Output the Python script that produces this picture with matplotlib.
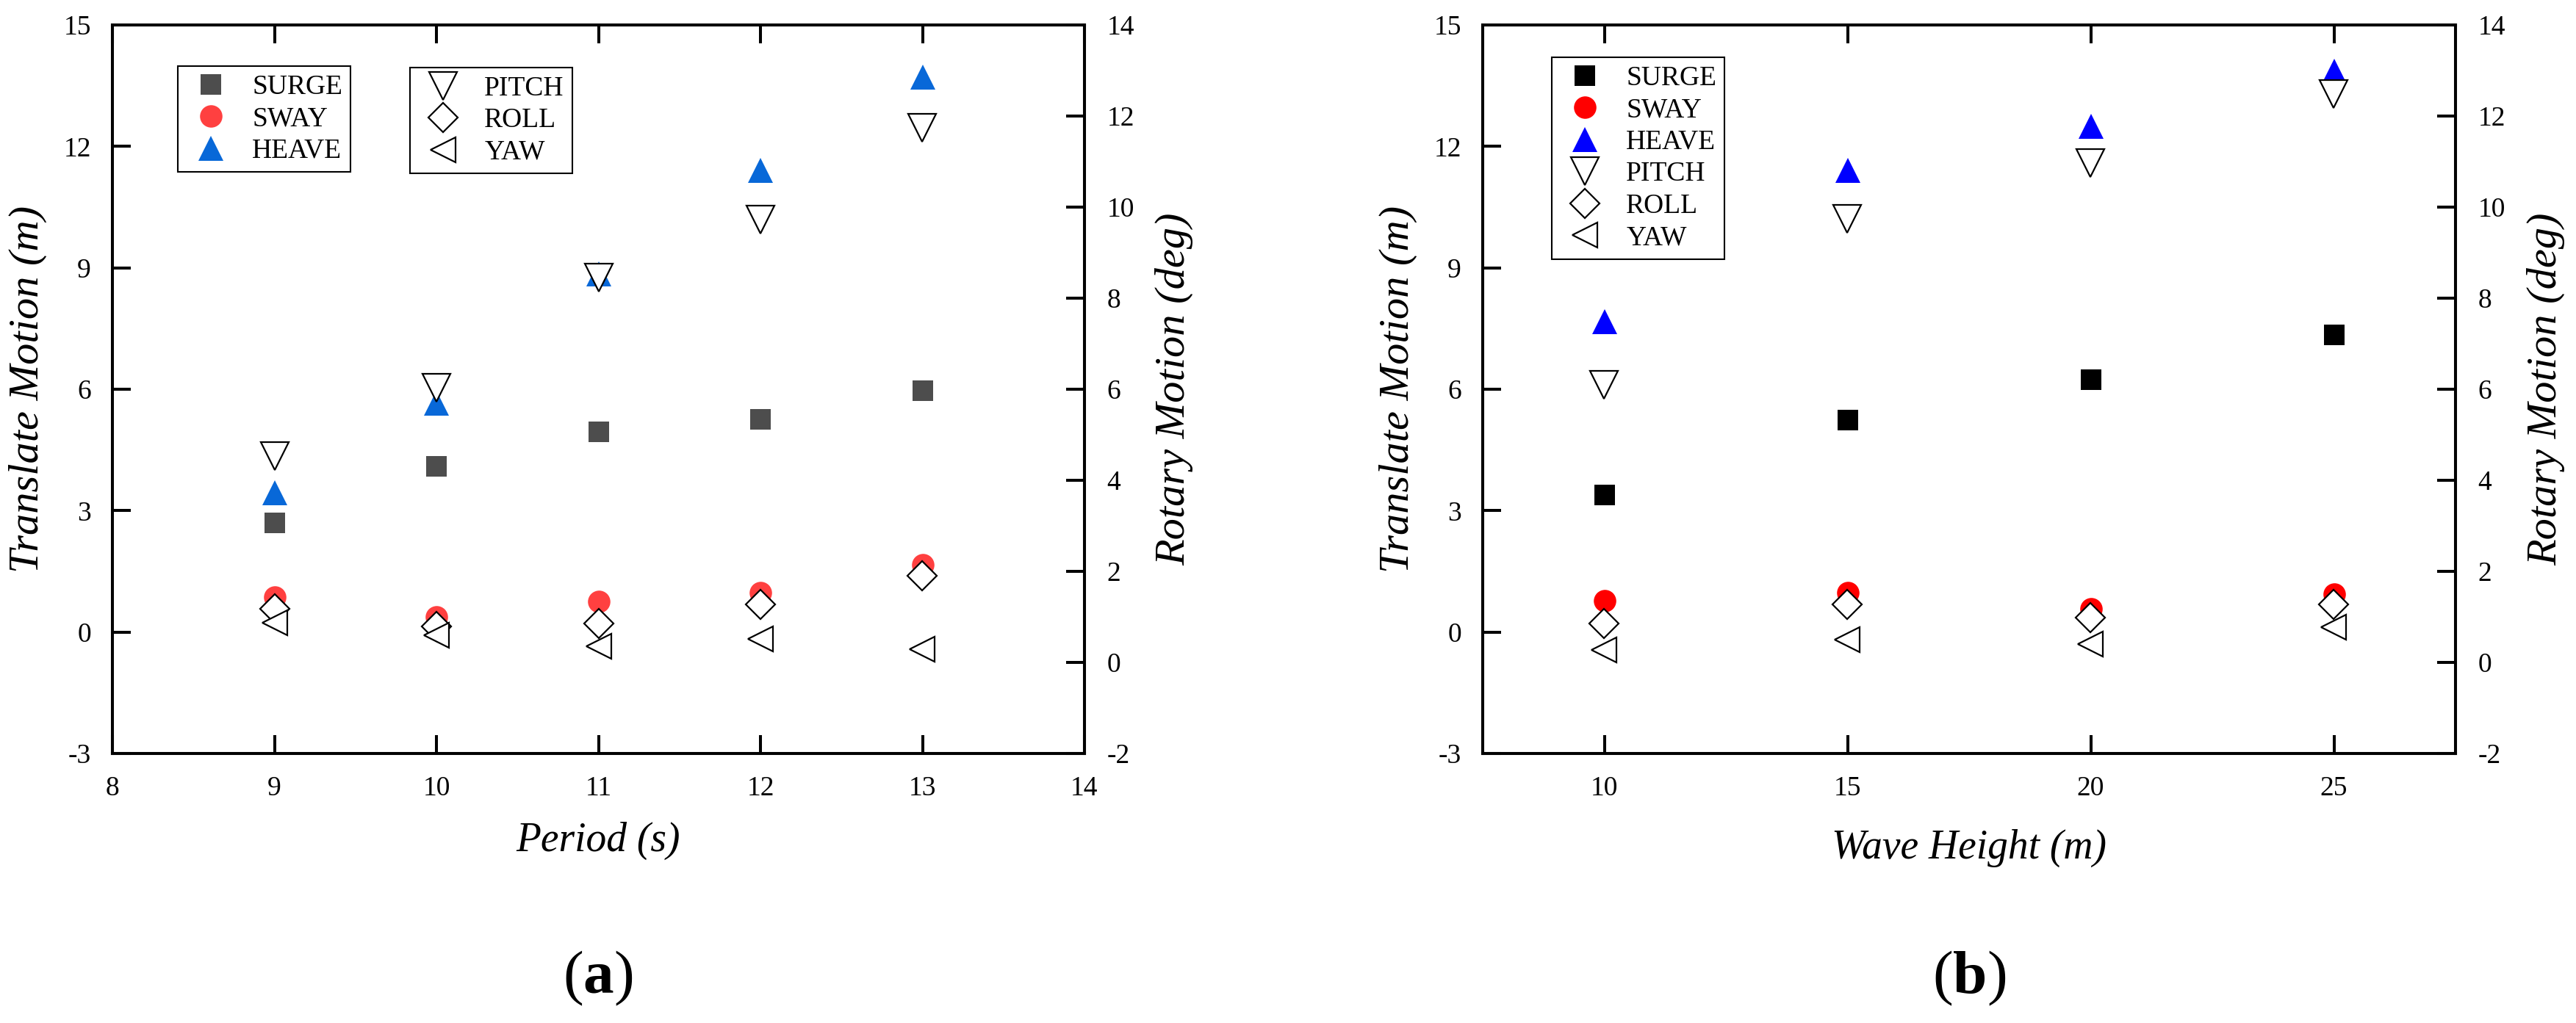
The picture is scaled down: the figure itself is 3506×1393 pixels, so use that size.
import matplotlib
matplotlib.use("Agg")
import matplotlib.pyplot as plt

plt.rcParams['font.family'] = ['Liberation Serif', 'DejaVu Serif']
plt.rcParams['mathtext.fontset'] = 'custom'
plt.rcParams['mathtext.rm'] = 'Liberation Serif'
plt.rcParams['mathtext.bf'] = 'Liberation Serif:bold'

# ---------------- data ----------------
period = [9, 10, 11, 12, 13]
surge_a = [2.70, 4.09, 4.95, 5.26, 5.96]
sway_a = [0.86, 0.37, 0.76, 0.98, 1.66]
heave_a = [3.45, 5.66, 8.85, 11.41, 13.72]
pitch_a = [4.53, 6.04, 8.45, 9.72, 11.75]
roll_a = [1.18, 0.79, 0.85, 1.28, 1.90]
yaw_a = [0.87, 0.60, 0.35, 0.51, 0.29]

wave_height = [10, 15, 20, 25]
surge_b = [3.39, 5.24, 6.23, 7.35]
sway_b = [0.78, 0.97, 0.58, 0.93]
heave_b = [7.67, 11.41, 12.50, 13.85]
pitch_b = [6.09, 9.75, 10.96, 12.49]
roll_b = [0.86, 1.27, 0.99, 1.27]
yaw_b = [0.28, 0.50, 0.40, 0.78]

labels_trans = ["SURGE", "SWAY", "HEAVE"]
labels_rot = ["PITCH", "ROLL", "YAW"]
left_yticks = [-3, 0, 3, 6, 9, 12, 15]
right_yticks = [-2, 0, 2, 4, 6, 8, 10, 12, 14]
xticks_a = [8, 9, 10, 11, 12, 13, 14]
xticks_b = [10, 15, 20, 25]

# ---------------- figure ----------------
W, H = 3506, 1393
fig = plt.figure(figsize=(W / 100, H / 100), dpi=100)

FS_TICK = 27
FS_XLAB = 40
FS_YLAB = 42
LW = 2.9
TL = 18

ms = dict(s=20, o=22, up=25, down=27, D=20, left=25)
MEW = 1.6


def style_axes(ax, ax2, xlim, xticks, xlab, xlab_y):
    ax.set_xlim(*xlim)
    ax.set_ylim(-3, 15)
    ax2.set_ylim(-2, 14)
    ax.set_xticks(xticks)
    ax.set_yticks(left_yticks)
    ax2.set_yticks(right_yticks)
    ax.set_yticklabels([str(v) for v in left_yticks])
    ax2.set_yticklabels([str(v) for v in right_yticks])
    ax.tick_params(axis='both', direction='in', length=TL, width=LW,
                   labelsize=FS_TICK, top=True, right=False)
    ax.tick_params(axis='x', pad=22)
    ax.tick_params(axis='y', pad=21)
    ax2.tick_params(axis='y', direction='in', length=TL, width=LW,
                    labelsize=FS_TICK, pad=22)
    for a in (ax, ax2):
        for sp in a.spines.values():
            sp.set_linewidth(LW)
    ax.set_xlabel(xlab, fontsize=FS_XLAB, style='italic')
    ax.xaxis.set_label_coords(0.5, xlab_y)
    ax.set_ylabel("Translate Motion (m)", fontsize=FS_YLAB, style='italic')
    ax.yaxis.set_label_coords(-0.067, 0.5)
    ax2.set_ylabel("Rotary Motion (deg)", fontsize=FS_YLAB, style='italic')
    ax2.yaxis.set_label_coords(1.073, 0.5)


def draw(ax, ax2, x, surge, sway, heave, pitch, roll, yaw, c_surge, c_sway, c_heave):
    h = []
    h += ax.plot(x, surge, ls='none', marker='s', ms=ms['s'], color=c_surge, mew=0, label=labels_trans[0])
    h += ax.plot(x, sway, ls='none', marker='o', ms=ms['o'], color=c_sway, mew=0, label=labels_trans[1])
    h += ax.plot(x, heave, ls='none', marker='^', ms=ms['up'], color=c_heave, mew=0, label=labels_trans[2])
    h += ax2.plot(x, pitch, ls='none', marker='v', ms=ms['down'], mfc='white', mec='black', mew=MEW, label=labels_rot[0])
    h += ax2.plot(x, roll, ls='none', marker='D', ms=ms['D'], mfc='white', mec='black', mew=MEW, label=labels_rot[1])
    h += ax2.plot(x, yaw, ls='none', marker='<', ms=ms['left'], mfc='white', mec='black', mew=MEW, label=labels_rot[2])
    return h


leg_kw = dict(fontsize=FS_TICK, borderpad=0.3, labelspacing=0.24, handlelength=1.8,
              handletextpad=0.6, borderaxespad=0, frameon=True, fancybox=False,
              framealpha=1, edgecolor='black', numpoints=1)

# ---- panel (a) ----
axa = fig.add_axes([153 / W, (H - 1026) / H, 1323 / W, 992 / H])
axa2 = axa.twinx()
ha = draw(axa, axa2, period, surge_a, sway_a, heave_a, pitch_a, roll_a, yaw_a,
          '#4d4d4d', '#ff4040', '#0868d8')
style_axes(axa, axa2, (8, 14), xticks_a, "Period (s)", -0.094)
leg1 = axa2.legend(handles=ha[:3], loc='upper left',
                   bbox_to_anchor=(242 / W, 1 - 90 / H), bbox_transform=fig.transFigure, **leg_kw)
leg1.get_frame().set_linewidth(1.5)
axa2.add_artist(leg1)
leg2 = axa2.legend(handles=ha[3:], loc='upper left',
                   bbox_to_anchor=(558 / W, 1 - 92 / H), bbox_transform=fig.transFigure, **leg_kw)
leg2.get_frame().set_linewidth(1.5)

# ---- panel (b) ----
axb = fig.add_axes([2018 / W, (H - 1026) / H, 1324 / W, 992 / H])
axb2 = axb.twinx()
hb = draw(axb, axb2, wave_height, surge_b, sway_b, heave_b, pitch_b, roll_b, yaw_b,
          'black', '#ff0000', '#0000ff')
style_axes(axb, axb2, (7.5, 27.5), xticks_b, "Wave Height (m)", -0.104)
leg3 = axb2.legend(handles=hb, loc='upper left',
                   bbox_to_anchor=(2112 / W, 1 - 78 / H), bbox_transform=fig.transFigure, **leg_kw)
leg3.get_frame().set_linewidth(1.5)

fig.text(814 / W, 1 - 1332 / H, r"($\mathbf{a}$)", fontsize=60, ha='center', va='center')
fig.text(2680 / W, 1 - 1332 / H, r"($\mathbf{b}$)", fontsize=60, ha='center', va='center')

fig.savefig("out.png", dpi=100)
